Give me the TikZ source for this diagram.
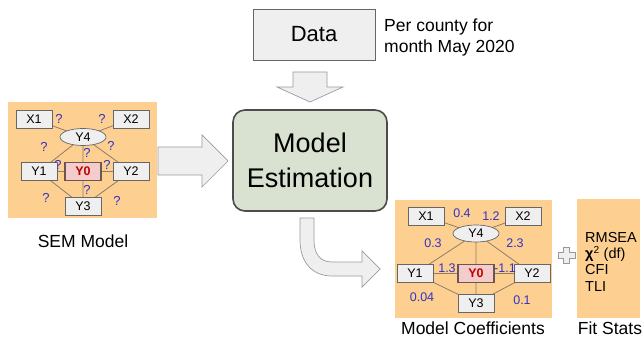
\documentclass[tikz,border=0pt]{standalone}
\usepackage{fontspec}
\setmainfont{Liberation Sans}
\usetikzlibrary{shapes.geometric}
\definecolor{panel}{HTML}{FDCF90}
\definecolor{boxfill}{HTML}{EFEFEF}
\definecolor{boxline}{HTML}{666666}
\definecolor{edgec}{HTML}{8F7D6A}
\definecolor{qblue}{HTML}{3232C8}
\definecolor{estfill}{HTML}{D9E2D0}
\definecolor{pinkfill}{HTML}{F4CCCC}
\definecolor{y0line}{HTML}{6B5555}
\definecolor{darkred}{HTML}{C00000}
\definecolor{arrowline}{HTML}{9A9A9A}
\pgfdeclarelayer{bg}
\pgfsetlayers{bg,main}
\tikzset{
  vbox/.style={draw=boxline, fill=boxfill, line width=0.7pt, minimum width=36pt, minimum height=18pt, inner sep=0pt, font=\fontsize{12.5}{14}\selectfont},
  y0box/.style={vbox, draw=y0line, line width=1.1pt, fill=pinkfill, text=darkred, font=\fontsize{12.5}{14}\selectfont\bfseries},
  lat/.style={ellipse, draw=boxline, fill=boxfill, line width=0.7pt, minimum width=46pt, minimum height=17pt, inner sep=0pt, font=\fontsize{12.5}{14}\selectfont},
  edge/.style={draw=edgec, line width=0.8pt},
  qm/.style={text=qblue, font=\fontsize{13}{14}\selectfont, inner sep=0pt},
  coef/.style={text=qblue, font=\fontsize{12.5}{14}\selectfont, inner sep=0pt},
  panelbox/.style={fill=panel, draw=none},
  bigarrow/.style={fill=boxfill, draw=arrowline, line width=0.7pt, line join=miter},
  caption/.style={font=\fontsize{17.5}{20}\selectfont, inner sep=0pt},
}
\begin{document}
\begin{tikzpicture}[x=1pt,y=-1pt]
\useasboundingbox (0,0) rectangle (644,344);
% ---------- Data ----------
\node[draw=boxline, fill=boxfill, line width=0.8pt, minimum width=122pt, minimum height=51pt, inner sep=0pt, font=\fontsize{22}{26}\selectfont] (data) at (314,34.5) {Data};
\node[anchor=west, align=left, inner sep=0pt, font=\fontsize{17.5}{21}\selectfont] (per) at (384,37.5) {Per county for\\month May 2020};
% down arrow
\draw[bigarrow] (293,72) -- (327,72) -- (327,87) -- (343,87) -- (310,102) -- (277,87) -- (293,87) -- cycle;
% ---------- Model Estimation ----------
\node[draw=black!70, fill=estfill, line width=1.6pt, rounded corners=12pt, minimum width=154pt, minimum height=101pt, inner sep=0pt, align=center, font=\fontsize{27}{35}\selectfont] (est) at (310,160.5) {Model\\Estimation};
% left arrow
\draw[bigarrow] (158,147) -- (202,147) -- (202,135) -- (228,161) -- (202,187) -- (202,175) -- (158,175) -- cycle;
% curved arrow
\draw[bigarrow] (300,218) -- (300,240) .. controls (300,262) and (312,276) .. (332,276) -- (362,276) -- (362,287) -- (380,269) -- (362,251) -- (362,262) -- (332,262) .. controls (320,262) and (314,254) .. (314,240) -- (314,218) -- cycle;
% ---------- SEM model panel ----------
\node[vbox] (a1) at (34,119) {X1};
\node[vbox] (a2) at (131,119) {X2};
\node[lat] (a4) at (83,137) {Y4};
\node[vbox] (aY1) at (39,171.5) {Y1};
\node[y0box] (a0) at (83,171.5) {Y0};
\node[vbox] (aY2) at (131,171.5) {Y2};
\node[vbox] (a3) at (83,206) {Y3};
\begin{pgfonlayer}{bg}
\fill[panelbox] (8,102) rectangle (157,218);
\path[edge] (a1.center) -- (a4.center) (a2.center) -- (a4.center) (a4.center) -- (aY1.center) (a4.center) -- (aY2.center) (a4.center) -- (a0.center) (aY1.center) -- (a0.center) (a0.center) -- (aY2.center) (a0.center) -- (a3.center) (aY1.center) -- (a3.center) (aY2.center) -- (a3.center);
\end{pgfonlayer}
\node[qm] (q1) at (59,119) {?};
\node[qm] (q2) at (102,119) {?};
\node[qm] (q3) at (44,147) {?};
\node[qm] (q4) at (87,153) {?};
\node[qm] (q5) at (111,146) {?};
\node[qm] (q6) at (58,165) {?};
\node[qm] (q7) at (107,165) {?};
\node[qm] (q8) at (87,190) {?};
\node[qm] (q9) at (46,198) {?};
\node[qm] (q10) at (117,201) {?};
\node[caption] (semlab) at (83,241) {SEM Model};
% ---------- Coefficients panel ----------
\node[vbox] (b1) at (426,216.5) {X1};
\node[vbox] (b2) at (523,216.5) {X2};
\node[lat] (b4) at (476,233.5) {Y4};
\node[vbox] (bY1) at (415,273.5) {Y1};
\node[y0box] (b0) at (476,273.5) {Y0};
\node[vbox] (bY2) at (532,273.5) {Y2};
\node[vbox] (b3) at (476,303) {Y3};
\begin{pgfonlayer}{bg}
\fill[panelbox] (395,200) rectangle (552,318);
\path[edge] (b1.center) -- (b4.center) (b2.center) -- (b4.center) (b4.center) -- (bY1.center) (b4.center) -- (bY2.center) (b4.center) -- (b0.center) (bY1.center) -- (b0.center) (b0.center) -- (bY2.center) (b0.center) -- (b3.center) (bY1.center) -- (b3.center) (bY2.center) -- (b3.center);
\end{pgfonlayer}
\node[coef] (c1) at (462,213.5) {0.4};
\node[coef] (c2) at (491,216.5) {1.2};
\node[coef] (c3) at (433,243) {0.3};
\node[coef] (c4) at (515,243) {2.3};
\node[coef] (c5) at (447,268.5) {1.3};
\node[coef] (c6) at (505,268.5) {-1.1};
\node[coef] (c7) at (422,297) {0.04};
\node[coef] (c8) at (522,300) {0.1};
\node[caption] (coeflab) at (473,328) {Model Coefficients};
% plus
\draw[fill=boxfill, draw=arrowline, line width=0.7pt] (563.5,247) -- (569.5,247) -- (569.5,252) -- (575,252) -- (575,258) -- (569.5,258) -- (569.5,263) -- (563.5,263) -- (563.5,258) -- (558,258) -- (558,252) -- (563.5,252) -- cycle;
% ---------- Fit stats ----------
\fill[panelbox] (577,199) rectangle (640,318);
\node[anchor=north west, align=left, inner sep=0pt, font=\fontsize{14.5}{16.3}\selectfont] (fit) at (585,232) {RMSEA\\\textbf{χ}\textsuperscript{2} (df)\\CFI\\TLI};
\node[caption] (fitlab) at (610,328) {Fit Stats};
\end{tikzpicture}
\end{document}
